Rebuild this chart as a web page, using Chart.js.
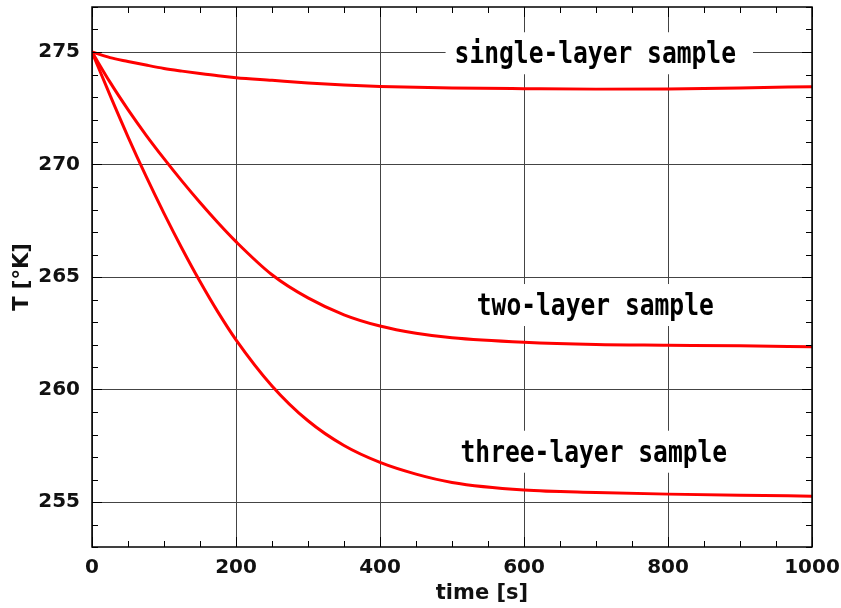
<!DOCTYPE html>
<html>
<head>
<meta charset="utf-8">
<script src="https://cdn.jsdelivr.net/npm/chart.js@4.4.0/dist/chart.umd.min.js"></script>
<style>
  html, body { margin: 0; padding: 0; background: #fff; }
  #wrap { width: 841px; height: 608px; }
</style>
</head>
<body>
<div id="wrap"><canvas id="tempChart"></canvas></div>
<script>
// time axis samples [s]
const timeS = [0, 25, 50, 75, 100, 125, 150, 175, 200, 250, 300, 350, 400, 450, 500, 600, 700, 800, 900, 1000];

// temperatures [K]
const singleLayer = [275, 274.75, 274.58, 274.42, 274.27, 274.15, 274.04, 273.94, 273.86, 273.74, 273.62, 273.53, 273.47, 273.43, 273.40, 273.37, 273.35, 273.36, 273.40, 273.46];
const twoLayer = [275, 273.66, 272.44, 271.31, 270.26, 269.26, 268.31, 267.41, 266.57, 265.1, 264.07, 263.32, 262.82, 262.5, 262.3, 262.1, 262.0, 261.97, 261.94, 261.9];
const threeLayer = [275, 273.08, 271.23, 269.48, 267.83, 266.27, 264.8, 263.44, 262.21, 260.16, 258.61, 257.51, 256.76, 256.24, 255.87, 255.53, 255.42, 255.35, 255.3, 255.26];

const xTicks = [0, 200, 400, 600, 800, 1000];
const yTicks = [255, 260, 265, 270, 275];

// text labels inside the plot
const curveLabels = ['single-layer sample', 'two-layer sample', 'three-layer sample'];
const labelTime = [699, 699, 697];
const labelTemp = [274.5, 263.31, 256.79];

function toPoints(values) {
    return values.map((v, i) => ({ x: timeS[i], y: v }));
}

// inward ticks, box, in-plot labels and axis titles (gnuplot look)
const gnuplotDecor = {
    id: 'gnuplotDecor',
    beforeDatasetsDraw(chart) {
        const { ctx, scales } = chart;
        ctx.save();
        ctx.font = 'bold 30px "DejaVu Sans Mono"';
        ctx.textBaseline = 'alphabetic';
        const sx = 0.82;
        curveLabels.forEach((txt, i) => {
            const cx = scales.x.getPixelForValue(labelTime[i]);
            const by = scales.y.getPixelForValue(labelTemp[i]);
            const w = ctx.measureText(txt).width * sx;
            ctx.fillStyle = '#fff';
            ctx.fillRect(cx - w / 2 - 9, by - 31, w + 26, 42);
            ctx.fillStyle = '#000';
            ctx.save();
            ctx.translate(cx - w / 2, by);
            ctx.scale(sx, 1);
            ctx.fillText(txt, 0, 0);
            ctx.restore();
        });
        ctx.restore();
    },
    afterDatasetsDraw(chart) {
        const { ctx, chartArea: a, scales } = chart;
        ctx.save();
        ctx.strokeStyle = '#000';
        ctx.lineWidth = 1;
        ctx.beginPath();
        for (let t = 0; t <= 1000; t += 50) {
            const x = Math.round(scales.x.getPixelForValue(t)) + 0.5;
            const len = t % 200 === 0 ? 10 : 6;
            ctx.moveTo(x, a.bottom); ctx.lineTo(x, a.bottom - len);
            ctx.moveTo(x, a.top); ctx.lineTo(x, a.top + len);
        }
        for (let v = 253; v <= 277; v += 1) {
            const y = Math.round(scales.y.getPixelForValue(v)) + 0.5;
            const len = v % 5 === 0 ? 10 : 6;
            ctx.moveTo(a.left, y); ctx.lineTo(a.left + len, y);
            ctx.moveTo(a.right, y); ctx.lineTo(a.right - len, y);
        }
        ctx.stroke();
        ctx.lineWidth = 1.5;
        ctx.strokeRect(a.left, a.top, a.right - a.left, a.bottom - a.top);

        // axis titles
        ctx.fillStyle = '#111';
        ctx.font = 'bold 21px "DejaVu Sans"';
        ctx.textAlign = 'center';
        ctx.textBaseline = 'middle';
        ctx.fillText('time [s]', 482, 594);
        ctx.translate(23, (a.top + a.bottom) / 2);
        ctx.rotate(-Math.PI / 2);
        ctx.fillText('T [°K]', 0, 0);
        ctx.restore();
    }
};

document.addEventListener('DOMContentLoaded', function () {
    const ctx = document.getElementById('tempChart').getContext('2d');

    const lineStyle = {
        borderColor: '#ff0000',
        borderWidth: 3,
        pointRadius: 0,
        fill: false,
        cubicInterpolationMode: 'monotone'
    };

    const data = {
        datasets: [
            Object.assign({ label: curveLabels[0], data: toPoints(singleLayer) }, lineStyle),
            Object.assign({ label: curveLabels[1], data: toPoints(twoLayer) }, lineStyle),
            Object.assign({ label: curveLabels[2], data: toPoints(threeLayer) }, lineStyle)
        ]
    };

    const config = {
        type: 'line',
        data: data,
        options: {
            responsive: true,
            maintainAspectRatio: false,
            animation: false,
            layout: { padding: { left: 0, right: 29, top: 7, bottom: 0 } },
            plugins: {
                legend: { display: false },
                tooltip: { enabled: false }
            },
            scales: {
                x: {
                    type: 'linear',
                    min: 0,
                    max: 1000,
                    afterBuildTicks: s => { s.ticks = xTicks.map(v => ({ value: v })); },
                    afterFit: s => { s.height = 61; s.paddingLeft = 0; s.paddingRight = 0; },
                    grid: { color: '#444', lineWidth: 1, drawTicks: false },
                    border: { display: false },
                    ticks: {
                        padding: 9,
                        maxRotation: 0,
                        color: '#111',
                        font: { family: 'DejaVu Sans', size: 20, weight: 'bold' },
                        callback: v => String(v)
                    }
                },
                y: {
                    min: 253,
                    max: 277,
                    afterBuildTicks: s => { s.ticks = yTicks.map(v => ({ value: v })); },
                    afterFit: s => { s.width = 92; s.paddingTop = 0; s.paddingBottom = 0; },
                    grid: { color: '#444', lineWidth: 1, drawTicks: false },
                    border: { display: false },
                    ticks: {
                        padding: 12,
                        color: '#111',
                        font: { family: 'DejaVu Sans', size: 20, weight: 'bold' },
                        callback: v => String(v)
                    }
                }
            }
        },
        plugins: [gnuplotDecor]
    };

    new Chart(ctx, config);
});
</script>
</body>
</html>
